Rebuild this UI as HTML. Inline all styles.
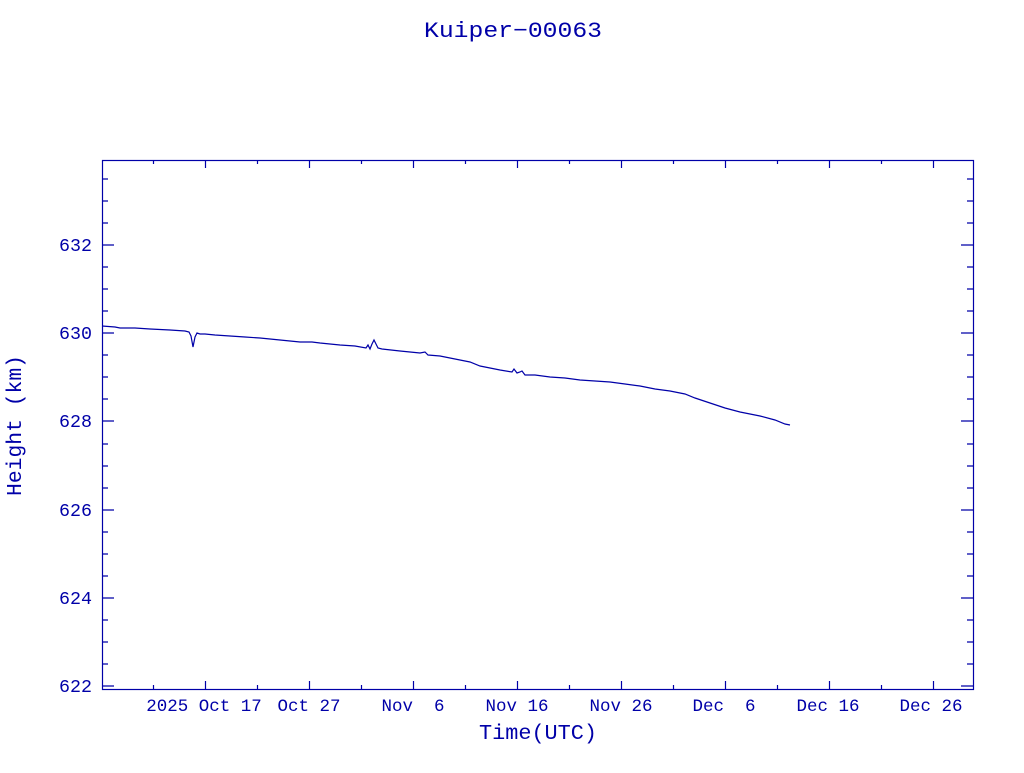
<!DOCTYPE html>
<html><head><meta charset="utf-8"><style>
html,body{margin:0;padding:0;background:#fff;}
svg text{font-family:"Liberation Mono",monospace;fill:#0000a8;white-space:pre;}
</style></head><body>
<svg width="1024" height="768" xmlns="http://www.w3.org/2000/svg" xml:space="preserve">
<rect width="1024" height="768" fill="#fff"/>
<text x="424" y="37" font-size="22" textLength="178" lengthAdjust="spacingAndGlyphs">Kuiper−00063</text>
<rect x="102.5" y="160.5" width="871" height="529" fill="none" stroke="#0000a8" stroke-width="1.2"/>
<g stroke="#0000a8" stroke-width="1.2">
<path d="M102 686h12M102 598h12M102 510h12M102 421h12M102 333h12M102 245h12
M973 686h-12M973 598h-12M973 510h-12M973 421h-12M973 333h-12M973 245h-12
M102 664h6M102 642h6M102 620h6M102 576h6M102 554h6M102 532h6M102 488h6M102 466h6M102 444h6M102 399h6M102 377h6M102 355h6M102 311h6M102 289h6M102 267h6M102 223h6M102 201h6M102 179h6
M973 664h-6M973 642h-6M973 620h-6M973 576h-6M973 554h-6M973 532h-6M973 488h-6M973 466h-6M973 444h-6M973 399h-6M973 377h-6M973 355h-6M973 311h-6M973 289h-6M973 267h-6M973 223h-6M973 201h-6M973 179h-6
M205.5 689v-8M309.5 689v-8M413.5 689v-8M517.5 689v-8M621.5 689v-8M725.5 689v-8M829.5 689v-8M933.5 689v-8
M153.5 689v-4M257.5 689v-4M361.5 689v-4M465.5 689v-4M569.5 689v-4M673.5 689v-4M777.5 689v-4M881.5 689v-4
M205.5 160v8M309.5 160v8M413.5 160v8M517.5 160v8M621.5 160v8M725.5 160v8M829.5 160v8M933.5 160v8
M153.5 160v4M257.5 160v4M361.5 160v4M465.5 160v4M569.5 160v4M673.5 160v4M777.5 160v4M881.5 160v4"/>
</g>
<g font-size="18">
<text x="59" y="692" textLength="33" lengthAdjust="spacingAndGlyphs">622</text>
<text x="59" y="604" textLength="33" lengthAdjust="spacingAndGlyphs">624</text>
<text x="59" y="516" textLength="33" lengthAdjust="spacingAndGlyphs">626</text>
<text x="59" y="427" textLength="33" lengthAdjust="spacingAndGlyphs">628</text>
<text x="59" y="339" textLength="33" lengthAdjust="spacingAndGlyphs">630</text>
<text x="59" y="251" textLength="33" lengthAdjust="spacingAndGlyphs">632</text>
</g>
<g font-size="17.5" text-anchor="middle">
<text x="204" y="711">2025 Oct 17</text><text x="309" y="711">Oct 27</text><text x="413" y="711">Nov  6</text>
<text x="517" y="711">Nov 16</text><text x="621" y="711">Nov 26</text><text x="724" y="711">Dec  6</text>
<text x="828" y="711">Dec 16</text><text x="931" y="711">Dec 26</text>
</g>
<text x="479" y="739" font-size="21" textLength="118" lengthAdjust="spacingAndGlyphs">Time(UTC)</text>
<text transform="translate(21,496) rotate(-90)" font-size="21" textLength="141" lengthAdjust="spacingAndGlyphs">Height (km)</text>
<polyline fill="none" stroke="#0000a8" stroke-width="1.2" points="102,326 115,327 120,328 135,328 150,329 170,330 185,331 189,332 191,336 193,347 195,337 197,333 200,334 205,334 215,335 230,336 245,337 260,338 280,340 300,342 312,342 320,343 340,345 355,346 366,348 368,345 370,349 372,344 374,340 376,344 378,348 382,349 400,351 420,353 425,352 428,355 440,356 460,360 470,362 480,366 500,370 512,372 514,369 517,373 520,372 522,371 525,375 535,375 550,377 565,378 580,380 595,381 610,382 625,384 640,386 655,389 670,391 685,394 695,398 710,403 725,408 740,412 760,416 775,420 785,424 790,425"/>
</svg>
</body></html>
